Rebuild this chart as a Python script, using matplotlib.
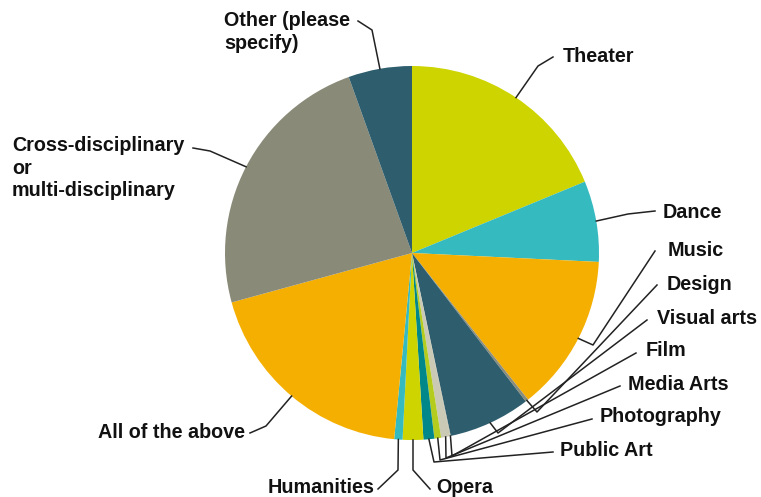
import matplotlib
matplotlib.use("Agg")
import numpy as np
import matplotlib.pyplot as plt

# --- data (share of responses, %) ---
labels = ["Theater", "Dance", "Music", "Design", "Visual arts", "Film",
          "Media Arts", "Photography", "Public Art", "Opera", "Humanities",
          "All of the above", "Cross-disciplinary\nor\nmulti-disciplinary",
          "Other (please\nspecify)"]
values = [18.8, 7.0, 13.6, 0.25, 7.1, 0.05, 0.78, 0.58, 0.94, 1.78, 0.72,
          19.25, 23.8, 5.5]
colors = ["#CDD400", "#35BAC0", "#F5AF00", "#8C8C7A", "#2E5E6E", "#A8A898",
          "#C9C9B5", "#B4CC1E", "#00878A", "#CDD400", "#35BAC0",
          "#F5AF00", "#8A8A78", "#2E5E6E"]

# label text position (pixels, left edge / vertical centre) and leader path
label_pos = [(563, 56), (663, 212), (668, 250), (667, 284), (657, 318),
             (646, 351), (628, 384), (600, 417), (560, 451), (436, 488),
             (268, 488), (98, 433), (12, 168), (224, 32)]
leader_start = [(553, 57), (655, 211), (655, 251), (657, 285), (647, 320),
                (636, 353), (620, 386), (592, 419), (553, 452), (430, 489),
                (378, 489), (250, 433), (193, 148), (358, 21)]
leader_elbow = [(538, 66), (628, 214), (593, 345), (537, 412), (498, 433),
                (452, 456), (446, 458), (440, 460), (434, 462), (413, 470),
                (398, 470), (266, 426), (210, 151), (372, 30)]

W, H = 761, 497
CX, CY, R = 412, 253, 187


def px(p):
    # pixel position -> data units (pie radius = 1)
    return ((p[0] - CX) / R, (CY - p[1]) / R)


fig = plt.figure(figsize=(W / 100, H / 100), dpi=100)
ax = fig.add_axes([0, 0, 1, 1])

wedges, _ = ax.pie(values, colors=colors, startangle=90, counterclock=False,
                   radius=1.0, center=(0, 0), frame=True,
                   wedgeprops=dict(linewidth=0.3, edgecolor="none"))
ax.set_xlim(-CX / R, (W - CX) / R)
ax.set_ylim(-(H - CY) / R, CY / R)
ax.set_aspect("equal")
ax.axis("off")

for w, lab, pos, s, e in zip(wedges, labels, label_pos, leader_start, leader_elbow):
    mid = np.deg2rad((w.theta1 + w.theta2) / 2)
    edge = (np.cos(mid), np.sin(mid))
    p0, p1 = px(s), px(e)
    ax.plot([p0[0], p1[0], edge[0]], [p0[1], p1[1], edge[1]],
            color="#222222", lw=1.1, solid_joinstyle="round")
    tx, ty = px(pos)
    ax.text(tx, ty, lab, ha="left", va="center", fontsize=14.2,
            fontweight="bold", family="Liberation Sans", linespacing=1.22,
            color="#111111")

fig.savefig("out.png", dpi=100)
